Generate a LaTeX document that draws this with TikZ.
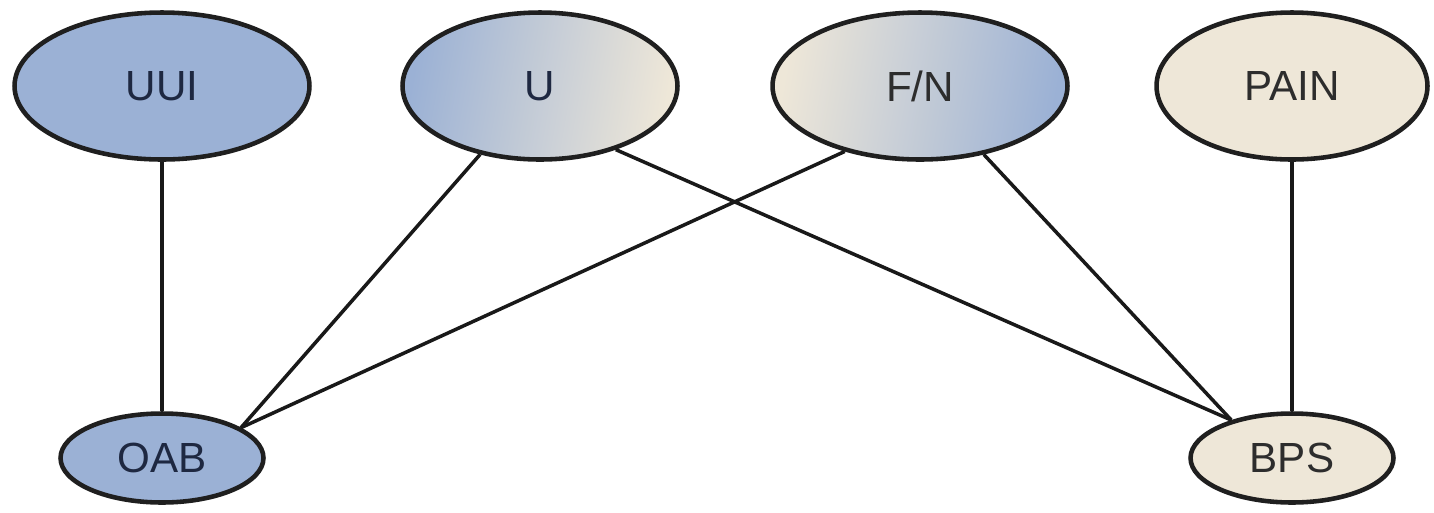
\documentclass[tikz,border=0pt]{standalone}
\usepackage{fontspec}
\setmainfont{Liberation Sans}
\usetikzlibrary{shapes.geometric}
\definecolor{nodeblue}{RGB}{155,177,213}
\definecolor{nodebeige}{RGB}{238,231,216}
\definecolor{bluetext}{RGB}{30,40,65}
\definecolor{graytext}{RGB}{45,45,45}
\begin{document}
\begin{tikzpicture}[x=0.02cm,y=-0.02cm,
  ov/.style={ellipse, draw=black!88, line width=2.6pt, inner sep=0pt, font=\fontsize{24}{28}\selectfont},
  big/.style={minimum width=5.9cm, minimum height=2.94cm},
  small/.style={minimum width=4.06cm, minimum height=1.78cm},
  bluefill/.style={fill=nodeblue, text=bluetext},
  beigefill/.style={fill=nodebeige, text=graytext},
  link/.style={line width=2pt, draw=black!90}]
\useasboundingbox (0,0) rectangle (1434,512);
\node[ov,big,bluefill] (UUI) at (162,86) {UUI};
\node[ov,big,minimum width=5.5cm,shading=axis,left color=nodeblue,right color=nodebeige,shading angle=80,text=bluetext] (U) at (540,86) {U};
\node[ov,big,shading=axis,left color=nodebeige,right color=nodeblue,shading angle=80,text=graytext] (FN) at (920,86) {F/N};
\node[ov,big,minimum width=5.42cm,beigefill] (PAIN) at (1292,86) {PAIN};
\node[ov,small,bluefill] (OAB) at (162,458) {OAB};
\node[ov,small,beigefill] (BPS) at (1292,458) {BPS};
\draw[link] (UUI) -- (OAB);
\draw[link] (U) -- (OAB.21);
\draw[link] (U.-40) -- (BPS.148);
\draw[link] (FN.-139) -- (OAB.21);
\draw[link] (FN) -- (BPS.148);
\draw[link] (PAIN) -- (BPS);
\end{tikzpicture}
\end{document}
